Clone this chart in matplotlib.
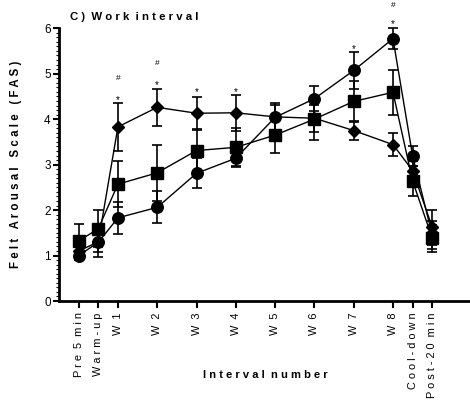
import matplotlib
matplotlib.use("Agg")
import matplotlib.pyplot as plt
import numpy as np
from matplotlib.ticker import MultipleLocator

plt.rcParams['font.family'] = ['Liberation Sans', 'DejaVu Sans']

categories = ["P r e  5  m i n", "W a r m - u p", "W  1", "W  2", "W  3", "W  4", "W  5",
              "W  6", "W  7", "W  8", "C o o l - d o w n", "P o s t - 2 0  m i n"]
xpos = [0, 0.5, 1, 2, 3, 4, 5, 6, 7, 8, 8.5, 9]

circle_mean = [1.00, 1.29, 1.83, 2.06, 2.81, 3.14, 4.04, 4.45, 5.07, 5.77, 3.19, 1.45]
circle_sd   = [0.10, 0.32, 0.35, 0.35, 0.33, 0.20, 0.28, 0.27, 0.41, 0.23, 0.22, 0.30]

square_mean = [1.32, 1.59, 2.57, 2.82, 3.31, 3.38, 3.65, 4.00, 4.39, 4.59, 2.64, 1.38]
square_sd   = [0.37, 0.41, 0.51, 0.62, 0.47, 0.42, 0.39, 0.46, 0.45, 0.50, 0.33, 0.30]

diamond_mean = [1.10, 1.30, 3.83, 4.26, 4.13, 4.14, 4.05, 4.02, 3.75, 3.44, 2.87, 1.62]
diamond_sd   = [0.15, 0.22, 0.52, 0.40, 0.36, 0.39, 0.30, 0.30, 0.21, 0.26, 0.22, 0.38]

star_x = [1, 2, 3, 4, 7, 8]
star_y = [4.42, 4.76, 4.60, 4.60, 5.55, 6.08]
hash_x = [1, 2, 8]
hash_y = [4.90, 5.22, 6.50]

fig = plt.figure(figsize=(4.70, 4.03), dpi=100)
ax = fig.add_axes([0.1255, 0.253, 0.8745, 0.677])

common = dict(color='black', ecolor='black', elinewidth=1.2, capsize=3.6,
              capthick=1.2, linewidth=1.0, clip_on=False)
ax.errorbar(xpos, square_mean, yerr=square_sd, fmt='-s', markersize=8.0, zorder=3, **common)
ax.errorbar(xpos, diamond_mean, yerr=diamond_sd, fmt='-D', markersize=6.3, zorder=4, **common)
ax.errorbar(xpos, circle_mean, yerr=circle_sd, fmt='-o', markersize=8.3, zorder=5, **common)

for x, y in zip(star_x, star_y):
    ax.text(x, y, "*", ha='center', va='center', fontsize=7, clip_on=False)
for x, y in zip(hash_x, hash_y):
    ax.text(x, y, "#", ha='center', va='center', fontsize=6, clip_on=False)

ax.set_xlim(-0.5, 9.96)
ax.set_ylim(0, 6)
ax.set_xticks(xpos)
ax.set_xticklabels(categories, rotation=90, fontsize=7.9)
ax.set_yticks(range(7))
ax.tick_params(axis='y', labelsize=8.5, width=1.5, length=4, pad=2)
ax.tick_params(axis='x', width=1.5, length=5, pad=3)
ax.yaxis.set_minor_locator(MultipleLocator(0.1))
ax.tick_params(axis='y', which='minor', length=2, width=0.8)

for side in ['top', 'right']:
    ax.spines[side].set_visible(False)
for side in ['left', 'bottom']:
    ax.spines[side].set_linewidth(2)

ax.set_ylabel("F e l t   A r o u s a l   S c a l e   ( F A S )", fontsize=8.3,
              fontweight='bold', labelpad=16)
fig.text(0.565, 0.07, "I n t e r v a l  n u m b e r", ha='center', va='center',
         fontsize=8, fontweight='bold')
fig.text(0.148, 0.958, "C )  W o r k  i n t e r v a l", ha='left', va='center',
         fontsize=8.2, fontweight='bold')

fig.savefig("out.png", dpi=100)
